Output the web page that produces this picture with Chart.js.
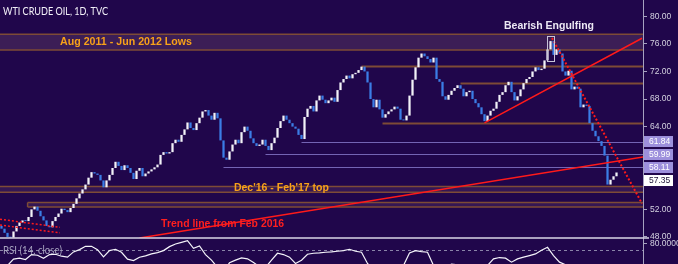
<!DOCTYPE html>
<html>
<head>
<meta charset="utf-8">
<script src="https://cdn.jsdelivr.net/npm/chart.js@4.4.1/dist/chart.umd.min.js"></script>
<style>
  html, body { margin: 0; padding: 0; background: #20064b; }
  #wrap { width: 678px; height: 264px; position: relative; }
</style>
</head>
<body>
<div id="wrap"><canvas id="oil"></canvas></div>
<script>
// WTI crude daily closes (Aug 2017 -> mid Nov 2018)
const closes = [
  49.2, 48.6, 48.0, 47.9, 48.8, 49.6, 50.1, 50.4, 50.3, 50.9,
  52.0, 52.4, 51.8, 51.0, 50.4, 49.6, 49.4, 50.3, 50.9, 51.4,
  52.1, 51.9, 51.6, 52.2, 52.8, 53.6, 54.3, 54.9, 55.6, 56.6,
  57.4, 57.2, 57.0, 56.2, 55.2, 56.2, 57.0, 58.0, 58.9, 58.3,
  57.7, 58.4, 58.0, 57.3, 56.4, 57.6, 58.0, 56.8, 57.2, 57.5,
  57.8, 58.1, 58.5, 59.9, 60.3, 60.1, 60.3, 61.6, 62.1, 61.8,
  62.8, 63.6, 64.6, 63.8, 63.5, 64.5, 65.3, 66.2, 66.4, 65.6,
  65.0, 66.0, 65.2, 62.0, 59.5, 59.2, 60.4, 61.4, 62.1, 61.6,
  63.2, 64.0, 63.4, 62.3, 61.6, 61.2, 61.4, 62.1, 61.2, 60.6,
  61.6, 62.4, 63.8, 64.8, 65.6, 65.0, 64.5, 64.0, 63.7, 62.8,
  62.2, 65.4, 66.6, 67.0, 66.2, 67.8, 68.5, 67.9, 67.4, 67.8,
  68.2, 67.6, 69.3, 70.4, 70.9, 71.4, 71.0, 71.6, 71.8, 72.2,
  72.7, 72.0, 70.4, 68.0, 66.8, 67.9, 66.5, 65.3, 65.8, 66.2,
  66.5, 66.9, 66.6, 65.0, 64.9, 65.6, 68.5, 70.8, 72.6, 74.0,
  74.6, 74.2, 73.8, 73.3, 74.0, 70.9, 70.5, 68.4, 67.9, 68.6,
  69.2, 69.6, 70.0, 69.5, 68.4, 69.0, 69.2, 68.0, 67.4, 66.8,
  65.8, 64.8, 65.6, 66.3, 66.6, 67.6, 68.6, 69.0, 70.0, 70.5,
  69.0, 67.8, 68.4, 69.4, 70.3, 70.9, 71.2, 72.0, 72.6, 72.2,
  72.4, 73.6, 75.2, 76.4, 74.4, 75.2, 74.6, 72.0, 71.4, 72.1,
  69.4, 69.8, 69.5, 66.8, 67.2, 67.0, 64.5, 63.4, 62.6, 61.9,
  61.2, 59.8, 55.6, 56.3, 56.8, 57.35
];
const firstOpen = 49.6;

// RSI(14), one reading every second candle
const rsi14 = [
  45, 47, 56.5, 58, 56, 63.5, 62.5, 58, 63.5, 64,
  61, 59.5, 67.5, 71, 76, 76, 71, 60, 69.5, 71.5,
  67, 56.5, 54.5, 59.5, 61.5, 64.5, 66.5, 69.5, 75.5, 79.5,
  82, 84.5, 73, 76.5, 63.5, 55, 44, 38, 51, 55,
  58.5, 57, 51.5, 45, 44, 55, 65.5, 63.5, 59.5, 50,
  55, 64, 65.5, 66, 67, 67.5, 68.5, 69.5, 71.5, 68.5,
  67, 50, 41, 38, 42, 44, 45, 47, 66, 69.5,
  68, 67, 47, 41, 44, 49, 48, 44, 46, 40,
  36, 47, 57, 59, 58, 52, 57, 59.5, 62, 64.5,
  70, 74.5, 62, 52, 48, 38, 40, 33, 27, 24,
  21, 16, 24
];

const priceTicks = [48, 52, 56, 60, 64, 68, 72, 76, 80];
const rsiTicks = [80];
const rsiUpperBand = 70;

// support / resistance zones (price low, price high, first candle)
const zoneLow = [75.1, 54.5, 52.35];
const zoneHigh = [77.4, 55.3, 52.99];
const zoneStart = [-0.5, -0.5, 8.7];

// single levels (price, first candle)
const levelPrices = [72.84, 70.29, 64.54, 61.84, 59.99, 58.11];
const levelStart = [120, 153, 127, 100, 88, 74];

// trend lines as [candle index, price] pairs
const trendFeb2016 = [[46, 47.85], [214, 59.62]];
const trendAug = [[161, 64.55], [213.5, 76.81]];
const trendOct = [[183.5, 76.86], [213.5, 52.84]];
const oldChannelA = [[-0.5, 50.57], [19.5, 49.40]];
const oldChannelB = [[-0.5, 49.72], [19.5, 48.61]];

const engulfing = { from: 181.8, to: 184.2, low: 73.6, high: 77.2 };

const notes = [
  { text: 'Aug 2011 - Jun 2012 Lows', i: 41.5, p: 76.3, color: '#f7a11a', w: 132 },
  { text: 'Bearish Engulfing', i: 182.5, p: 78.6, color: '#ece8f4', w: 90 },
  { text: "Dec'16 - Feb'17 top", i: 93.3, p: 55.07, color: '#f7a11a', w: 95 },
  { text: 'Trend line from Feb 2016', i: 73.7, p: 49.83, color: '#ff1f1f', w: 123 }
];

// colours
const UP = '#f2f2f8';
const DOWN = '#3b7de6';
const RED = '#ff1a1a';
const BROWN = '#7d4b36';
const LAVENDER = '#7464b4';
const AXIS = '#a6a2c0';
const TICK_TEXT = '#d4d2e0';
const TICK_FONT = { size: 8.5, family: '"Liberation Sans", Arial' };

const opens = closes.map((c, i) => i ? closes[i - 1] : firstOpen);
const bodies = closes.map((c, i) => ({ x: i, y: [opens[i], c] }));
const bodyColors = closes.map((c, i) => c >= opens[i] ? UP : DOWN);
const rsiPoints = rsi14.map((v, j) => ({ x: j * 2, y: v }));
const toPts = arr => arr.map(([x, y]) => ({ x, y }));

function trend(data, dashed, width) {
  return {
    type: 'line', data: toPts(data), yAxisID: 'y', order: 1,
    borderColor: RED, borderWidth: width, borderDash: dashed ? [2, 2] : [],
    pointRadius: 0, fill: false
  };
}

function noPad(s) {
  s.width = 35;
  s.paddingTop = 0;
  s.paddingBottom = 0;
}

const drawings = {
  id: 'drawings',
  beforeDatasetsDraw(chart) {
    const { ctx, chartArea, scales: { x, y, yRsi } } = chart;
    const right = chartArea.right;
    ctx.save();
    // zones
    zoneLow.forEach((lo, k) => {
      const x0 = Math.max(x.getPixelForValue(zoneStart[k]), 0);
      const yT = y.getPixelForValue(zoneHigh[k]);
      const yB = y.getPixelForValue(lo);
      ctx.fillStyle = k === 0 ? 'rgba(95, 60, 100, 0.45)' : 'rgba(110, 70, 110, 0.25)';
      ctx.fillRect(x0, yT, right - x0, yB - yT);
      ctx.strokeStyle = BROWN;
      ctx.lineWidth = 1.5;
      ctx.beginPath();
      ctx.moveTo(x0, yT); ctx.lineTo(right, yT);
      ctx.moveTo(x0, yB); ctx.lineTo(right, yB);
      if (x0 > 1) { ctx.moveTo(x0, yT); ctx.lineTo(x0, yB); }
      ctx.stroke();
    });
    // levels
    levelPrices.forEach((p, k) => {
      const x0 = x.getPixelForValue(levelStart[k]);
      const yy = Math.round(y.getPixelForValue(p)) + 0.5;
      ctx.strokeStyle = k < 3 ? BROWN : LAVENDER;
      ctx.lineWidth = k < 3 ? 2 : 1.2;
      ctx.beginPath();
      ctx.moveTo(x0, yy); ctx.lineTo(right, yy);
      ctx.stroke();
    });
    // rsi band
    const yb = Math.round(yRsi.getPixelForValue(rsiUpperBand)) + 0.5;
    ctx.strokeStyle = '#8a84a8';
    ctx.lineWidth = 1;
    ctx.setLineDash([3, 3]);
    ctx.beginPath();
    ctx.moveTo(chartArea.left, yb); ctx.lineTo(right, yb);
    ctx.stroke();
    ctx.restore();
  },
  afterDatasetsDraw(chart) {
    const { ctx, chartArea, scales: { x, y, yRsi } } = chart;
    ctx.save();
    // pane separator
    ctx.strokeStyle = '#d8d6e6';
    ctx.lineWidth = 1.5;
    ctx.beginPath();
    ctx.moveTo(0, yRsi.top); ctx.lineTo(chartArea.right + 6, yRsi.top);
    ctx.stroke();

    // engulfing box
    const bx0 = x.getPixelForValue(engulfing.from);
    const bx1 = x.getPixelForValue(engulfing.to);
    const by0 = y.getPixelForValue(engulfing.high);
    const by1 = y.getPixelForValue(engulfing.low);
    ctx.strokeStyle = '#c8c4d8';
    ctx.lineWidth = 1;
    ctx.strokeRect(Math.round(bx0) + 0.5, Math.round(by0) + 0.5, Math.round(bx1 - bx0), Math.round(by1 - by0));

    // notes
    ctx.font = 'bold 11px "Liberation Sans", Arial, sans-serif';
    ctx.textAlign = 'center';
    ctx.textBaseline = 'middle';
    notes.forEach(n => {
      ctx.fillStyle = n.color;
      ctx.fillText(n.text, x.getPixelForValue(n.i), y.getPixelForValue(n.p), n.w);
    });

    // title and pane label
    ctx.textAlign = 'left';
    ctx.fillStyle = '#f2f0f8';
    ctx.font = '11px Lato, "Liberation Sans", sans-serif';
    ctx.fillText('WTI CRUDE OIL, 1D, TVC', 3, 11, 105);
    ctx.fillStyle = '#a8a4c0';
    ctx.fillText('RSI (14, close)', 3, yRsi.getPixelForValue(rsiUpperBand) + 0.5, 59);

    // price tags on the axis
    const tags = levelPrices.slice(3).map(p => ({ p, fill: '#9d90dc', txt: '#ffffff' }));
    tags.push({ p: closes[closes.length - 1], fill: '#ffffff', txt: '#1c1236' });
    let lastBottom = -99;
    ctx.font = '8.5px "Liberation Sans", Arial, sans-serif';
    tags.forEach(t => {
      let cy = y.getPixelForValue(t.p);
      if (cy - 5.5 < lastBottom + 2) cy = lastBottom + 2 + 5.5;
      lastBottom = cy + 5.5;
      ctx.fillStyle = t.fill;
      ctx.fillRect(chartArea.right + 1, cy - 5.5, 29, 11);
      ctx.fillStyle = t.txt;
      ctx.fillText(t.p.toFixed(2), chartArea.right + 6, cy + 0.5);
    });
    ctx.restore();
  }
};

new Chart(document.getElementById('oil'), {
  type: 'bar',
  data: {
    datasets: [
      trend(trendFeb2016, false, 1.5),
      trend(trendAug, false, 1.5),
      trend(trendOct, true, 2),
      trend(oldChannelA, true, 1.5),
      trend(oldChannelB, true, 1.5),
      {
        type: 'bar', data: bodies, yAxisID: 'y', order: 2,
        backgroundColor: bodyColors, borderWidth: 0,
        barPercentage: 0.75, categoryPercentage: 1, minBarLength: 1, grouped: false
      },
      {
        type: 'line', data: rsiPoints, yAxisID: 'yRsi', order: 3,
        borderColor: '#f4f4fa', borderWidth: 1.2, pointRadius: 0, tension: 0
      }
    ]
  },
  options: {
    responsive: true,
    maintainAspectRatio: false,
    animation: false,
    layout: { padding: 0 },
    plugins: { legend: { display: false }, tooltip: { enabled: false } },
    scales: {
      x: { type: 'linear', min: -0.5, max: 213.83, offset: false, grid: { offset: false }, display: false },
      y: {
        axis: 'y', position: 'right', stack: 'panes', stackWeight: 238,
        min: 47.85, max: 82.36,
        afterBuildTicks: s => { s.ticks = priceTicks.map(v => ({ value: v })); },
        afterFit: noPad,
        ticks: { color: TICK_TEXT, padding: 3, autoSkip: false, font: TICK_FONT, callback: v => v.toFixed(2) },
        grid: { drawOnChartArea: false, drawTicks: true, tickLength: 4, color: AXIS },
        border: { color: AXIS }
      },
      yRsi: {
        axis: 'y', position: 'right', stack: 'panes', stackWeight: 26,
        min: 49.2, max: 88.6,
        afterBuildTicks: s => { s.ticks = rsiTicks.map(v => ({ value: v })); },
        afterFit: noPad,
        ticks: { color: TICK_TEXT, padding: 3, autoSkip: false, font: TICK_FONT, callback: v => v.toFixed(4) },
        grid: { drawOnChartArea: false, drawTicks: true, tickLength: 4, color: AXIS },
        border: { color: AXIS }
      }
    }
  },
  plugins: [drawings]
});
</script>
</body>
</html>
